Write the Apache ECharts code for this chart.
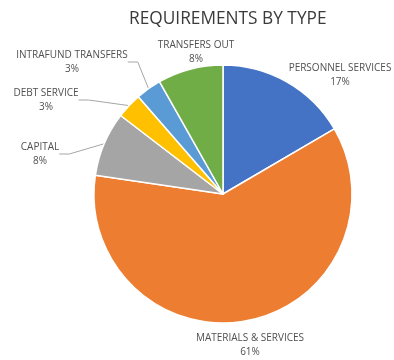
<!DOCTYPE html>
<html>
<head>
<meta charset="utf-8">
<script src="https://cdn.jsdelivr.net/npm/echarts@6/dist/echarts.min.js"></script>
<style>
html,body{margin:0;padding:0;background:#fff;}
#c{width:394px;height:360px;}
</style>
</head>
<body>
<div id="c"></div>
<script>
const categories = ['PERSONNEL SERVICES', 'MATERIALS & SERVICES', 'CAPITAL', 'DEBT SERVICE', 'INTRAFUND TRANSFERS', 'TRANSFERS OUT'];
const values = [16.6, 60.8, 8.1, 3.2, 3.2, 8.2];
const colors = ['#4472C4', '#ED7D31', '#A5A5A5', '#FFC000', '#5B9BD5', '#70AD47'];
const showLine = [false, false, true, true, true, false];
// label centre positions (layout only)
const labelPos = [[340, 75], [250, 345], [40, 154], [46, 100], [72, 62], [196, 52]];

const chart = echarts.init(document.getElementById('c'), null, {renderer: 'canvas'});
chart.setOption({
  animation: false,
  title: {
    text: 'REQUIREMENTS BY TYPE',
    left: 124,
    top: 6,
    textStyle: {fontFamily: 'Open Sans', fontSize: 17.3, fontWeight: 'normal', color: '#3a3a3a'}
  },
  series: [{
    type: 'pie',
    center: [223, 194],
    radius: 129,
    startAngle: 90,
    clockwise: true,
    percentPrecision: 0,
    itemStyle: {borderColor: '#fff', borderWidth: 1.5},
    label: {
      formatter: '{b}\n{d}%',
      fontFamily: 'Open Sans',
      fontSize: 10,
      lineHeight: 14,
      color: '#505050',
      align: 'center',
      overflow: 'none'
    },
    labelLine: {lineStyle: {color: '#A6A6A6', width: 1}, length: 10, length2: 10},
    labelLayout: function (p) {
      const pos = labelPos[p.dataIndex];
      return {x: pos[0], y: pos[1], align: 'center', verticalAlign: 'middle'};
    },
    data: categories.map((n, i) => ({
      name: n,
      value: values[i],
      itemStyle: {color: colors[i]},
      labelLine: {show: showLine[i]}
    }))
  }]
});
</script>
</body>
</html>
